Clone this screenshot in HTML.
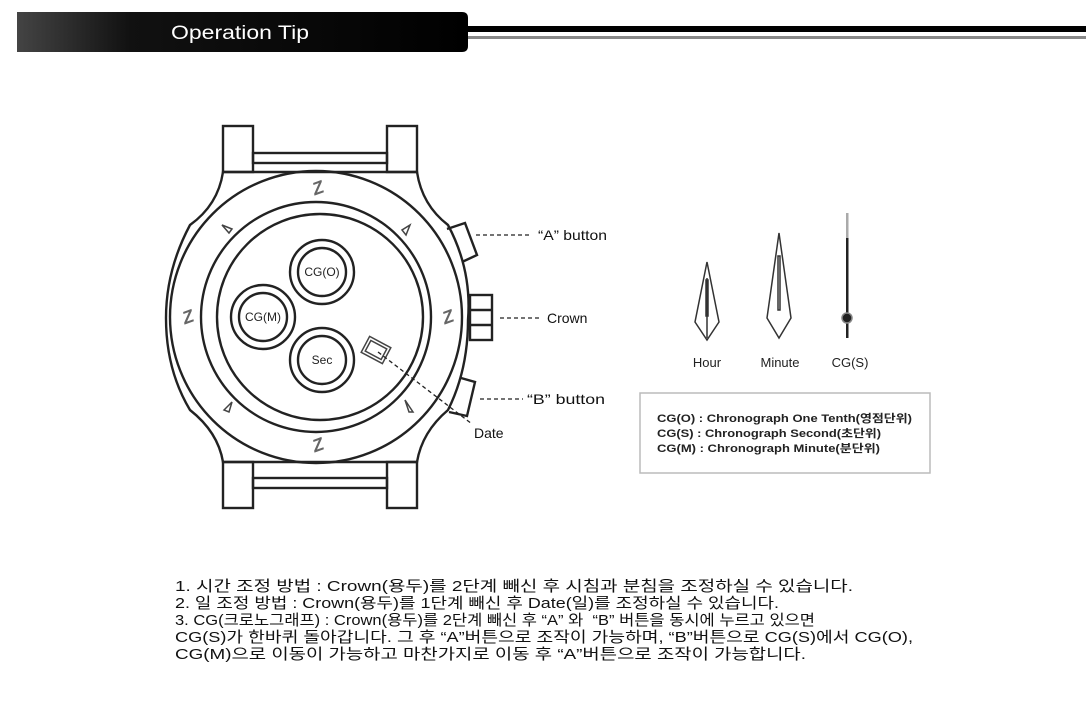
<!DOCTYPE html>
<html><head><meta charset="utf-8"><style>
html,body{margin:0;padding:0;background:#fff;}
svg{display:block;}
</style></head><body>
<svg width="1086" height="712" viewBox="0 0 1086 712" xmlns="http://www.w3.org/2000/svg" font-family="Liberation Sans, Noto Sans CJK KR, sans-serif">
<defs>
<linearGradient id="hg" x1="0" x2="1" y1="0" y2="0">
<stop offset="0" stop-color="#444"/><stop offset="0.25" stop-color="#111"/><stop offset="1" stop-color="#000"/>
</linearGradient>
</defs>
<path d="M17 12 H462 Q468 12 468 18 V46 Q468 52 462 52 H17 Z" fill="url(#hg)"/>
<text x="240" y="39" fill="#fff" font-size="19" text-anchor="middle" textLength="138" lengthAdjust="spacingAndGlyphs">Operation Tip</text>
<rect x="468" y="26" width="618" height="6" fill="#000"/>
<rect x="468" y="36" width="618" height="3" fill="#888"/>

<g fill="none" stroke="#222" stroke-width="2.4">
<rect x="223" y="126" width="30" height="46"/>
<rect x="387" y="126" width="30" height="46"/>
<rect x="253" y="153" width="134" height="10"/>
<rect x="223" y="462" width="30" height="46"/>
<rect x="387" y="462" width="30" height="46"/>
<rect x="253" y="478" width="134" height="10"/>
<path d="M223 172 H417 Q422 205 448 225 Q472 270 468 320 Q468 370 448 410 Q422 432 417 462 H223 Q218 432 190 410 Q166 370 166 318 Q166 270 190 225 Q218 205 223 172 Z"/>
<circle cx="316" cy="317" r="146"/>
<circle cx="316" cy="317" r="115"/>
<circle cx="320" cy="317" r="103"/>
<circle cx="322" cy="272" r="32"/><circle cx="322" cy="272" r="24"/>
<circle cx="263" cy="317" r="32"/><circle cx="263" cy="317" r="24"/>
<circle cx="322" cy="360" r="32"/><circle cx="322" cy="360" r="24"/>
<path d="M447 229 L465 223 L477 255 L462 262"/>
<rect x="470" y="295" width="22" height="45"/>
<line x1="470" y1="310" x2="492" y2="310"/><line x1="470" y1="325" x2="492" y2="325"/>
<path d="M449 412 L467 416 L475 382 L461 378"/>
</g>
<g fill="none" stroke="#444" stroke-width="1.5">
<rect x="364" y="341" width="24" height="18" transform="rotate(28 376 350)"/>
<rect x="367" y="344" width="18" height="12" transform="rotate(28 376 350)"/>
<path d="M222 225 L232 229 L229 233 Z"/>
<path d="M410 225 L406 235 L402 230 Z"/>
<path d="M224 410 L232 402 L229 412 Z"/>
<path d="M405 400 L413 412 L409 412 Z"/>
</g>
<g fill="#666" font-size="18" font-weight="bold" text-anchor="middle" font-style="italic">
<text x="318" y="194" transform="rotate(-20 318 188)">Z</text>
<text x="318" y="451" transform="rotate(-20 318 445)">Z</text>
<text x="188" y="323" transform="rotate(-20 188 317)">Z</text>
<text x="448" y="323" transform="rotate(-20 448 317)">Z</text>
</g>
<g font-size="12" fill="#222" text-anchor="middle">
<text x="322" y="276">CG(O)</text>
<text x="263" y="321">CG(M)</text>
<text x="322" y="364">Sec</text>
</g>
<g stroke="#222" stroke-width="1.3" stroke-dasharray="4,3">
<line x1="476" y1="235" x2="530" y2="235"/>
<line x1="500" y1="318" x2="541" y2="318"/>
<line x1="480" y1="399" x2="523" y2="399"/>
<line x1="378" y1="352" x2="472" y2="424"/>
</g>
<g font-size="14" fill="#111">
<text x="538" y="240" textLength="69" lengthAdjust="spacingAndGlyphs">“A” button</text>
<text x="547" y="323">Crown</text>
<text x="527" y="404" textLength="78" lengthAdjust="spacingAndGlyphs">“B” button</text>
<text x="474" y="438">Date</text>
</g>
<g fill="none" stroke="#333" stroke-width="1.5">
<path d="M707 262 L719 322 L707 340 L695 322 Z"/>
<path d="M707 278 L707 338"/>
<rect x="706" y="280" width="2" height="36"/>
<path d="M779 233 L791 318 L779 338 L767 318 Z"/>
<rect x="778" y="256" width="2" height="54"/>
</g>
<rect x="846" y="213" width="2.5" height="26" fill="#aaa"/>
<rect x="846" y="238" width="2.5" height="100" fill="#222"/>
<circle cx="847" cy="318" r="5" fill="#222" stroke="#888" stroke-width="1.5"/>
<g font-size="13" fill="#222" text-anchor="middle">
<text x="707" y="367">Hour</text>
<text x="780" y="367">Minute</text>
<text x="850" y="367">CG(S)</text>
</g>
<rect x="640" y="393" width="290" height="80" fill="none" stroke="#bbb" stroke-width="1.5"/>
<g font-size="11" font-weight="bold" fill="#222">
<text x="657" y="422" textLength="255" lengthAdjust="spacingAndGlyphs">CG(O) : Chronograph One Tenth(영점단위)</text>
<text x="657" y="437" textLength="224" lengthAdjust="spacingAndGlyphs">CG(S) : Chronograph Second(초단위)</text>
<text x="657" y="452" textLength="223" lengthAdjust="spacingAndGlyphs">CG(M) : Chronograph Minute(분단위)</text>
</g>
<g font-size="15" fill="#111">
<text x="175" y="591" textLength="678" lengthAdjust="spacingAndGlyphs">1. 시간 조정 방법 : Crown(용두)를 2단계 빼신 후 시침과 분침을 조정하실 수 있습니다.</text>
<text x="175" y="608" textLength="604" lengthAdjust="spacingAndGlyphs">2. 일 조정 방법 : Crown(용두)를 1단계 빼신 후 Date(일)를 조정하실 수 있습니다.</text>
<text x="175" y="625" textLength="640" lengthAdjust="spacingAndGlyphs">3. CG(크로노그래프) : Crown(용두)를 2단계 빼신 후 “A” 와 &#160;“B” 버튼을 동시에 누르고 있으면</text>
<text x="175" y="642" textLength="738" lengthAdjust="spacingAndGlyphs">CG(S)가 한바퀴 돌아갑니다. 그 후 “A”버튼으로 조작이 가능하며, “B”버튼으로 CG(S)에서 CG(O),</text>
<text x="175" y="659" textLength="631" lengthAdjust="spacingAndGlyphs">CG(M)으로 이동이 가능하고 마찬가지로 이동 후 “A”버튼으로 조작이 가능합니다.</text>
</g>
</svg>
</body></html>
